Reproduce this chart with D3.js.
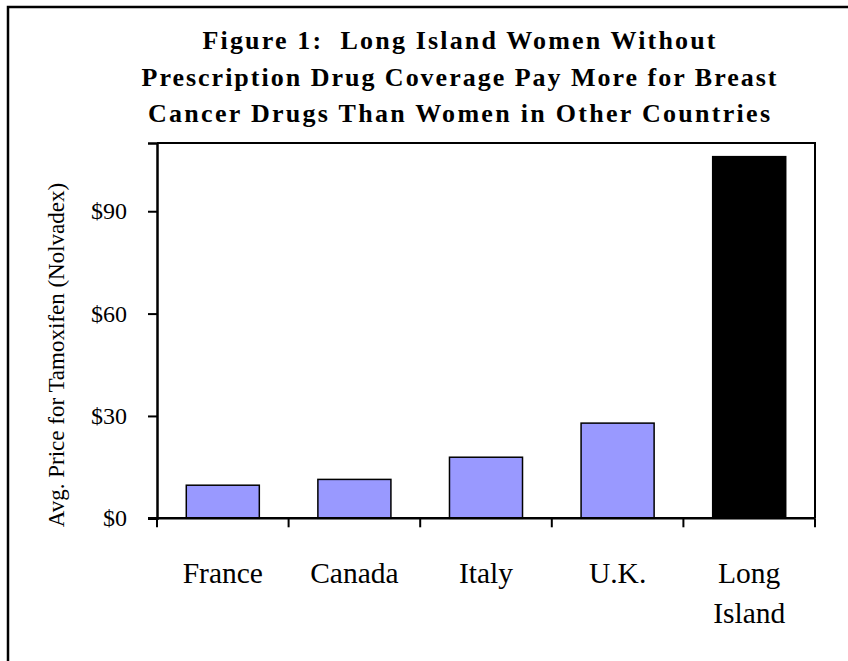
<!DOCTYPE html>
<html><head><meta charset="utf-8">
<script src="https://cdn.jsdelivr.net/npm/d3@7"></script>
<style>body{margin:0;background:#fff}svg{display:block}</style>
</head><body>
<script>
const categories = ["France","Canada","Italy","U.K.","Long Island"];
const prices = [9.7, 11.4, 17.9, 27.9, 106];
const barColors = ["#9999ff","#9999ff","#9999ff","#9999ff","#000000"];
const yTicks = [0, 30, 60, 90];
const titleLines = ["Figure 1:  Long Island Women Without",
  "Prescription Drug Coverage Pay More for Breast",
  "Cancer Drugs Than Women in Other Countries"];
const titleWidths = [513, 635, 622];
const yLabel = "Avg. Price for Tamoxifen (Nolvadex)";

(function(){
const W = 848, H = 661;
const svg = d3.select("body").append("svg").attr("width", W).attr("height", H);
const font = "'Liberation Serif','Times New Roman',serif";

// outer frame
svg.append("path").attr("d", `M8,${H+5}V7H${W+5}`).attr("fill","none").attr("stroke","#000").attr("stroke-width",2.5);

// title
svg.append("g").selectAll("text").data(titleLines).join("text")
  .attr("x", 459).attr("y", (d,i)=>49 + i*36.7)
  .attr("text-anchor","middle").attr("font-family",font).attr("font-weight","bold")
  .attr("font-size",26).style("white-space","pre")
  .attr("textLength",(d,i)=>titleWidths[i]).attr("lengthAdjust","spacing")
  .text(d=>d);

const pL = 157, pR = 815, pT = 143, pB = 518.3;
const x = d3.scaleBand().domain(categories).range([pL,pR]).paddingInner(0.445).paddingOuter(0.2225);
const y = d3.scaleLinear().domain([0,110]).range([pB, pT]);

// bars
svg.append("g").selectAll("rect").data(categories).join("rect")
  .attr("x", d=>x(d)).attr("width", x.bandwidth())
  .attr("y", (d,i)=>y(prices[i])).attr("height",(d,i)=>y(0)-y(prices[i]))
  .attr("fill",(d,i)=>barColors[i]).attr("stroke","#000").attr("stroke-width",1.5);

// plot frame top & right
svg.append("path").attr("d",`M${pL},${pT}H${pR}V${pB}`).attr("fill","none").attr("stroke","#000").attr("stroke-width",2);

// y axis
const ya = svg.append("g").attr("transform",`translate(${pL},0)`)
  .call(d3.axisLeft(y).tickValues(yTicks).tickSize(9).tickPadding(21).tickFormat(d=>"$"+d));
ya.select(".domain").attr("stroke-width",2.5);
ya.selectAll(".tick line").attr("stroke-width",2);
ya.selectAll("text").attr("font-family",font).attr("font-size",24).attr("fill","#000");

// x axis
const step = x.step();
const boundaries = categories.map(c=>x(c) - step*x.paddingInner()/2).concat([pR]);
svg.append("line").attr("x1",pL-9).attr("x2",pR).attr("y1",pB).attr("y2",pB).attr("stroke","#000").attr("stroke-width",2.5);
svg.append("g").selectAll("line").data(boundaries).join("line")
  .attr("x1",d=>d).attr("x2",d=>d).attr("y1",pB).attr("y2",pB+9)
  .attr("stroke","#000").attr("stroke-width",2);

const xl = svg.append("g").selectAll("text").data(categories).join("text")
  .attr("x", d=>x(d)+x.bandwidth()/2).attr("y",583)
  .attr("text-anchor","middle").attr("font-family",font).attr("font-size",29.5);
xl.each(function(d){
  const words = d === "Long Island" ? ["Long","Island"] : [d];
  const t = d3.select(this);
  words.forEach((w,i)=>t.append("tspan").attr("x", x(d)+x.bandwidth()/2).attr("dy", i?40:0).text(w));
});

// y label
svg.append("text").attr("transform","translate(64,355) rotate(-90)")
  .attr("text-anchor","middle").attr("font-family",font).attr("font-size",23).text(yLabel);
})();
</script>
</body></html>
